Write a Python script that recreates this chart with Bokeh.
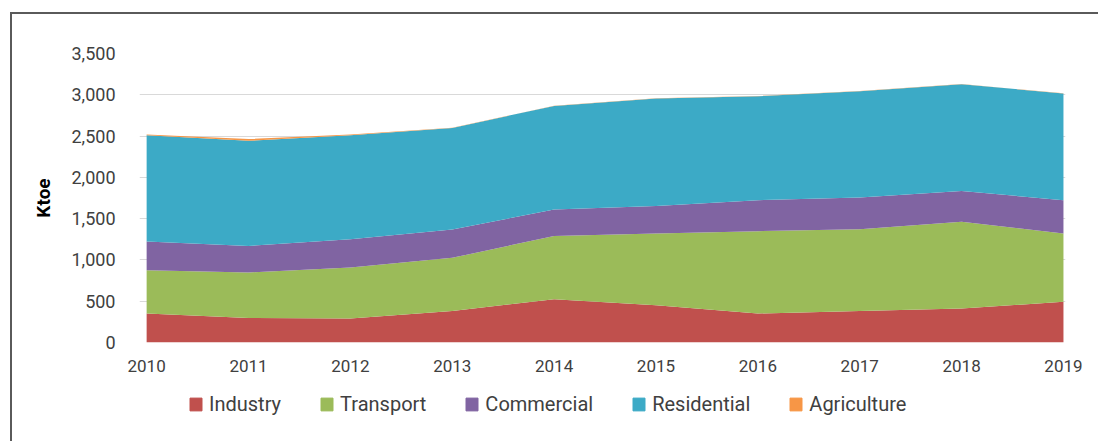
from bokeh.plotting import figure
from bokeh.layouts import column
from bokeh.models import Legend, LegendItem, NumeralTickFormatter, FixedTicker, Range1d
from bokeh.embed import file_html
from bokeh.resources import INLINE

years = [2010, 2011, 2012, 2013, 2014, 2015, 2016, 2017, 2018, 2019]
industry = [351, 298, 291, 383, 524, 452, 351, 383, 412, 492]
transport = [525, 550, 617, 642, 767, 868, 997, 989, 1049, 828]
commercial = [347, 322, 343, 344, 320, 334, 375, 384, 375, 403]
residential = [1288, 1272, 1260, 1230, 1254, 1301, 1260, 1287, 1292, 1293]
agriculture = [8, 22, 8, 2, 2, 2, 2, 2, 2, 2]

series_names = ["Industry", "Transport", "Commercial", "Residential", "Agriculture"]
colors = ["#C0504D", "#9BBB59", "#8064A2", "#3CAAC6", "#F79646"]
y_ticks = [0, 500, 1000, 1500, 2000, 2500, 3000, 3500]

FONT = "Roboto"
TXT = "#404040"
W = 1086

p = figure(width=W, height=368, output_backend="svg", toolbar_location=None,
           x_range=Range1d(2009.93, 2019.02), y_range=Range1d(0, 3500),
           min_border_left=127, min_border_right=33, min_border_top=39, min_border_bottom=40)
p.outline_line_color = None

data = dict(x=years, Industry=industry, Transport=transport, Commercial=commercial,
            Residential=residential, Agriculture=agriculture)
p.varea_stack(series_names, x="x", color=colors, source=data)

p.xgrid.grid_line_color = None
p.ygrid.grid_line_color = "#D9D9D9"
p.ygrid.grid_line_width = 1.2
p.ygrid.ticker = FixedTicker(ticks=y_ticks)

p.xaxis.ticker = FixedTicker(ticks=years)
p.yaxis.ticker = FixedTicker(ticks=y_ticks)
p.yaxis.formatter = NumeralTickFormatter(format="0,0")
for ax in (p.xaxis[0], p.yaxis[0]):
    ax.axis_line_color = None
    ax.major_tick_line_color = None
    ax.minor_tick_line_color = None
    ax.major_tick_out = 0
    ax.major_tick_in = 0
    ax.major_label_text_font = FONT
    ax.major_label_text_font_size = "17px"
    ax.major_label_text_color = TXT
p.yaxis.major_label_text_font_size = "18px"
p.yaxis.major_label_standoff = 24
p.xaxis.major_label_standoff = 17
p.yaxis.axis_label = "Ktoe"
p.yaxis.axis_label_text_font = FONT
p.yaxis.axis_label_text_font_style = "bold"
p.yaxis.axis_label_text_font_size = "19px"
p.yaxis.axis_label_text_color = "#000000"
p.yaxis.axis_label_standoff = 13

# legend strip (legend proxies sit outside the visible range)
lg = figure(width=W, height=59, output_backend="svg", toolbar_location=None,
            x_range=Range1d(0, 1), y_range=Range1d(0, 1),
            min_border_left=0, min_border_right=0, min_border_top=0, min_border_bottom=0)
lg.axis.visible = False
lg.grid.grid_line_color = None
lg.outline_line_color = None
items = []
for name, col in zip(series_names, colors):
    r = lg.quad(left=[-3], right=[-2], bottom=[-3], top=[-2], color=col)
    items.append(LegendItem(label=name, renderers=[r]))
legend = Legend(items=items, orientation="horizontal", location=(49, 25),
                glyph_width=15, glyph_height=16, label_standoff=6, spacing=38,
                padding=0, margin=0, border_line_color=None, background_fill_alpha=0,
                label_text_font=FONT, label_text_font_size="20px", label_text_color=TXT,
                label_height=16)
lg.add_layout(legend, "center")

layout = column(p, lg, spacing=0)
layout.styles = {"border-left": "2px solid #5a5a5a", "border-top": "2px solid #5a5a5a",
                 "margin-left": "10px", "margin-top": "12px"}

open("out.html", "w").write(file_html(layout, INLINE))
